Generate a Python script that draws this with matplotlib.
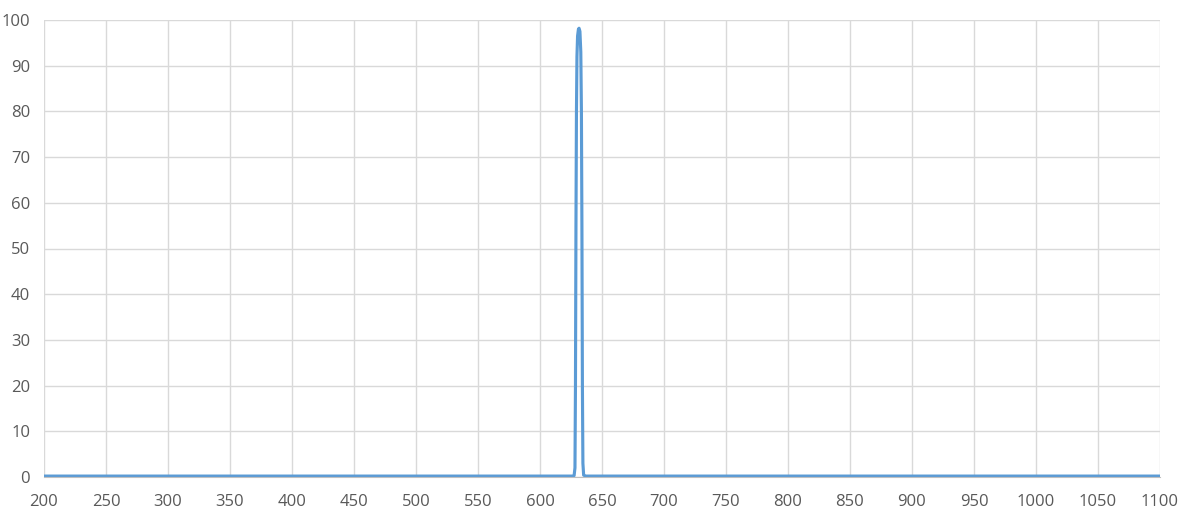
import matplotlib.pyplot as plt

# wavelength (nm) and transmission (%)
wavelength = [200, 400, 600, 626, 627.5, 628.2, 628.6, 629.0, 629.4, 629.8, 630.3,
              631.0, 631.5, 632.2, 632.9, 633.4, 633.8, 634.2, 634.6, 635.2, 637, 800, 1100]
transmission = [0.2, 0.2, 0.2, 0.2, 0.3, 2, 20, 55, 80, 92, 96.5,
                98, 98.2, 97.5, 93, 80, 55, 20, 3, 0.4, 0.2, 0.2, 0.2]

x_ticks = list(range(200, 1101, 50))
y_ticks = list(range(0, 101, 10))

plt.rcParams['font.family'] = ['Open Sans', 'DejaVu Sans']

fig = plt.figure(figsize=(11.84, 5.21), dpi=100)
ax = fig.add_axes([44 / 1184, 1 - 477 / 521, (1160 - 44) / 1184, (477 - 20) / 521])

ax.plot(wavelength, transmission, color='#5B9BD5', linewidth=2.25, solid_joinstyle='round')

ax.set_xlim(200, 1100)
ax.set_ylim(0, 100)
ax.set_xticks(x_ticks)
ax.set_yticks(y_ticks)
ax.grid(True, color='#D9D9D9', linewidth=1)
ax.set_axisbelow(True)
for side in ['top', 'right', 'left']:
    ax.spines[side].set_visible(False)
ax.spines['bottom'].set_color('#BFBFBF')
ax.tick_params(length=0, labelsize=12, labelcolor='#595959')
ax.tick_params(axis='x', pad=12)
ax.tick_params(axis='y', pad=10)

fig.savefig('out.png', dpi=100)
